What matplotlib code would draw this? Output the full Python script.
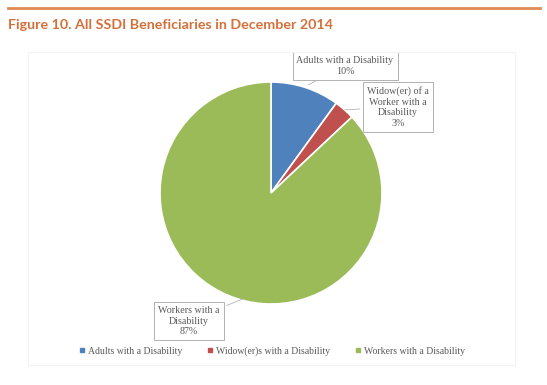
import matplotlib.pyplot as plt
from matplotlib.patches import Rectangle
from matplotlib.lines import Line2D

categories = ['Adults with a Disability', 'Widow(er)s with a Disability',
              'Workers with a Disability']
labels = ['Adults with a Disability\n10%',
          'Widow(er) of a\nWorker with a\nDisability\n3%',
          'Workers with a\nDisability\n87%']
values = [10, 3, 87]
colors = ['#4f81bd', '#c0504d', '#9bbb59']

W, H = 547, 385
fig = plt.figure(figsize=(W / 100, H / 100), dpi=100)

# header rule + title
fig.add_artist(Line2D([8 / W, 540 / W], [1 - 8 / H, 1 - 8 / H],
                      color='#e08a55', lw=2))
fig.text(8 / W, 1 - 25 / H, 'Figure 10. All SSDI Beneficiaries in December 2014',
         color='#d4703a', fontsize=10.3, fontweight='bold', family='Lato',
         va='center', ha='left')

# faint chart frame
fig.add_artist(Rectangle((28 / W, 1 - 365 / H), 487 / W, 313 / H,
                         transform=fig.transFigure, fill=False,
                         edgecolor='#f3f3f3', lw=0.8))

cx, cy, r = 271, 193, 111
ax = fig.add_axes([(cx - r) / W, (H - cy - r) / H, 2 * r / W, 2 * r / H])
ax.pie(values, colors=colors, startangle=90, counterclock=False,
       wedgeprops=dict(edgecolor='white', linewidth=1.2))
ax.set_xlim(-1, 1)
ax.set_ylim(-1, 1)
ax.axis('off')


def to_data(px, py):
    return ((px - cx) / r, (cy - py) / r)


box = dict(boxstyle='square,pad=0.4', fc='white', ec='#a6a6a6', lw=0.6)
txt = dict(fontsize=7.2, family='Liberation Serif', color='#595959',
           ha='center', va='center', multialignment='center', bbox=box,
           annotation_clip=False)
line = dict(arrowstyle='-', color='#a6a6a6', lw=0.5)
ax.annotate(labels[0], xy=to_data(306, 86), xytext=to_data(345, 66),
            arrowprops=line, **txt)
ax.annotate(labels[1], xy=to_data(342, 110), xytext=to_data(398, 107),
            arrowprops=line, **txt)
ax.annotate(labels[2], xy=to_data(245, 298), xytext=to_data(189, 321),
            arrowprops=line, **txt)

handles = [Line2D([], [], marker='s', ls='', color=c, markersize=3)
           for c in colors]
fig.legend(handles, categories, loc='center', bbox_to_anchor=(272 / W, 1 - 351 / H),
           ncol=3, frameon=False, handlelength=0.6, handletextpad=0.3,
           columnspacing=2.6,
           prop=dict(family='Liberation Serif', size=7), labelcolor='#595959')

fig.savefig('out.png', dpi=100)
